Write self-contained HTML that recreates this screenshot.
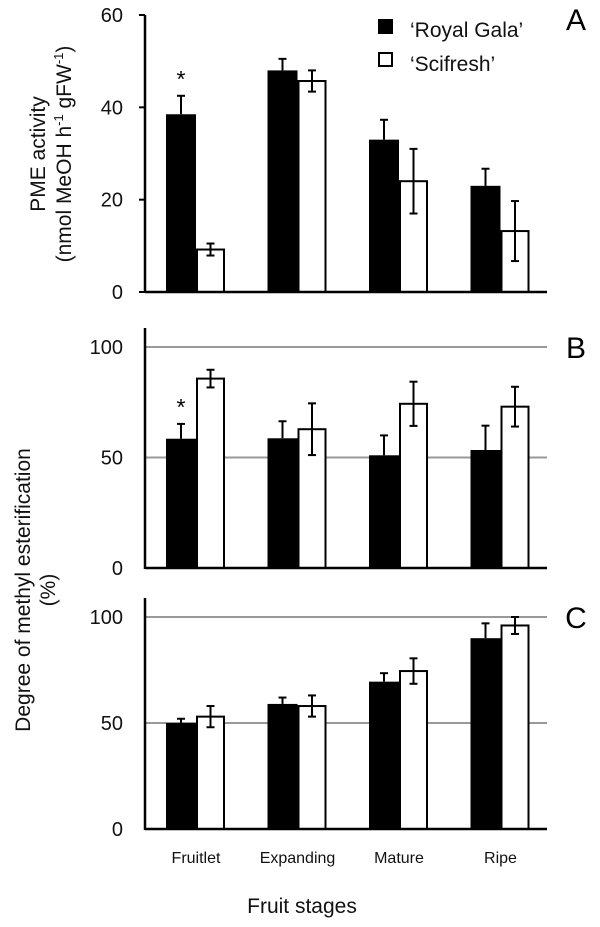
<!DOCTYPE html>
<html><head><meta charset="utf-8"><style>
body{margin:0;background:#fff;width:600px;height:927px;overflow:hidden}
svg{display:block;font-family:"Liberation Sans",sans-serif}
</style></head><body>
<svg id="c" width="600" height="927"></svg>
<script>
const categories=["Fruitlet","Expanding","Mature","Ripe"];
const pmeGala=[38.5,48,33,23];
const pmeGalaErr=[4,2.5,4.3,3.7];
const pmeSci=[9.2,45.7,24,13.2];
const pmeSciErr=[1.3,2.3,7,6.5];
const demB_Gala=[58.5,58.7,51,53.4];
const demB_GalaErr=[6.7,7.7,9,11];
const demB_Sci=[85.7,62.8,74.3,73];
const demB_SciErr=[4,11.7,10,9];
const demC_Gala=[50,59,69.5,90];
const demC_GalaErr=[2,3,4,7];
const demC_Sci=[53,58,74.5,96];
const demC_SciErr=[5,5,6,4];
const ticksA=[0,20,40,60];
const ticksBC=[0,50,100];
const NS="http://www.w3.org/2000/svg";
const svg=document.getElementById('c');
function mk(t,a,p){const e=document.createElementNS(NS,t);for(const k in a)e.setAttribute(k,a[k]);(p||svg).appendChild(e);return e;}
function panel(name,y0,yTop,max,axisTop,ticks,gala,galaE,sci,sciE,grid,letter,stars){
  const g=mk('g',{});
  
  
  const sy=v=>y0-(y0-yTop)*v/max;
  const x0=145,x1=547;
  if(grid){ticks.forEach(t=>{if(t>0){const l=mk('line',{x1:x0,x2:x1,y1:sy(t),y2:sy(t),stroke:'#999','stroke-width':2},g);}});}
  ticks.forEach(t=>{
    const tx=mk('text',{x:123,y:sy(t)+7,'text-anchor':'end','font-size':20,fill:'#111'},g);tx.textContent=t;
    
    if(!grid){const tk=mk('line',{x1:x0-6,x2:x0,y1:sy(t),y2:sy(t),stroke:'#000','stroke-width':2},g);}
  });
  const cx=i=>196+i*101.5;
  categories.forEach((c,i)=>{
    const b=mk('rect',{x:cx(i)-30,y:sy(gala[i]),width:30,height:y0-sy(gala[i]),fill:'#000'},g);
    
    const w=mk('rect',{x:cx(i)+1,y:sy(sci[i]),width:27,height:y0-sy(sci[i]),fill:'#fff',stroke:'#000','stroke-width':2},g);
    
    [[cx(i)-15,gala[i],galaE[i],true],[cx(i)+14.5,sci[i],sciE[i],false]].forEach(([x,v,e,up])=>{
      const lo=up?v:v-e,hi=v+e;
      mk('line',{x1:x,x2:x,y1:sy(lo),y2:sy(hi),stroke:'#000','stroke-width':2},g);
      mk('line',{x1:x-4,x2:x+4,y1:sy(hi),y2:sy(hi),stroke:'#000','stroke-width':2},g);
      if(!up)mk('line',{x1:x-4,x2:x+4,y1:sy(lo),y2:sy(lo),stroke:'#000','stroke-width':2},g);
    });
  });
  if(stars){const s=mk('text',{x:cx(0)-15,y:sy(gala[0]+galaE[0])-9,'text-anchor':'middle','font-size':23,fill:'#000'},g);s.textContent='*';}
  mk('line',{x1:x0,x2:x0,y1:axisTop,y2:y0+1,stroke:'#000','stroke-width':2.5},g);
  mk('line',{x1:x0,x2:x1,y1:y0,y2:y0,stroke:'#000','stroke-width':2.5},g);
  const L=mk('text',{x:576,y:sy(max)+(letter=='A'?15:11),'text-anchor':'middle','font-size':30,fill:'#000'},g);L.textContent=letter;
  
}
panel('panel-a-pme-activity',292,15,60,15,ticksA,pmeGala,pmeGalaErr,pmeSci,pmeSciErr,false,'A',true);
panel('panel-b-dme',568,347,100,328,ticksBC,demB_Gala,demB_GalaErr,demB_Sci,demB_SciErr,true,'B',true);
panel('panel-c-dme',829,617,100,598,ticksBC,demC_Gala,demC_GalaErr,demC_Sci,demC_SciErr,true,'C',false);
categories.forEach((c,i)=>{const t=mk('text',{x:196+i*101.5,y:863,'text-anchor':'middle','font-size':16,fill:'#111'});t.textContent=c;
});
</script>
<svg width="600" height="927" style="position:absolute;left:0;top:0">
<g font-family="Liberation Sans,sans-serif" fill="#111">
<text x="302" y="913" text-anchor="middle" font-size="21">Fruit stages</text>
<text transform="translate(45,154) rotate(-90)" text-anchor="middle" font-size="21">PME activity</text>
<text transform="translate(71,154) rotate(-90)" text-anchor="middle" font-size="21">(nmol MeOH h<tspan font-size="13" dy="-8">-1</tspan><tspan dy="8"> gFW</tspan><tspan font-size="13" dy="-8">-1</tspan><tspan dy="8">)</tspan></text>
<text transform="translate(30,590) rotate(-90)" text-anchor="middle" font-size="21">Degree of methyl esterification</text>
<text transform="translate(55,590) rotate(-90)" text-anchor="middle" font-size="21">(%)</text>
<g>
<rect x="378" y="19" width="15" height="15" fill="#000"/>
<text x="410" y="37" font-size="21">‘Royal Gala’</text>
<rect x="379" y="53" width="13" height="13" fill="#fff" stroke="#000" stroke-width="2"/>
<text x="410" y="71" font-size="21">‘Scifresh’</text>
</g></g></svg>
</body></html>
